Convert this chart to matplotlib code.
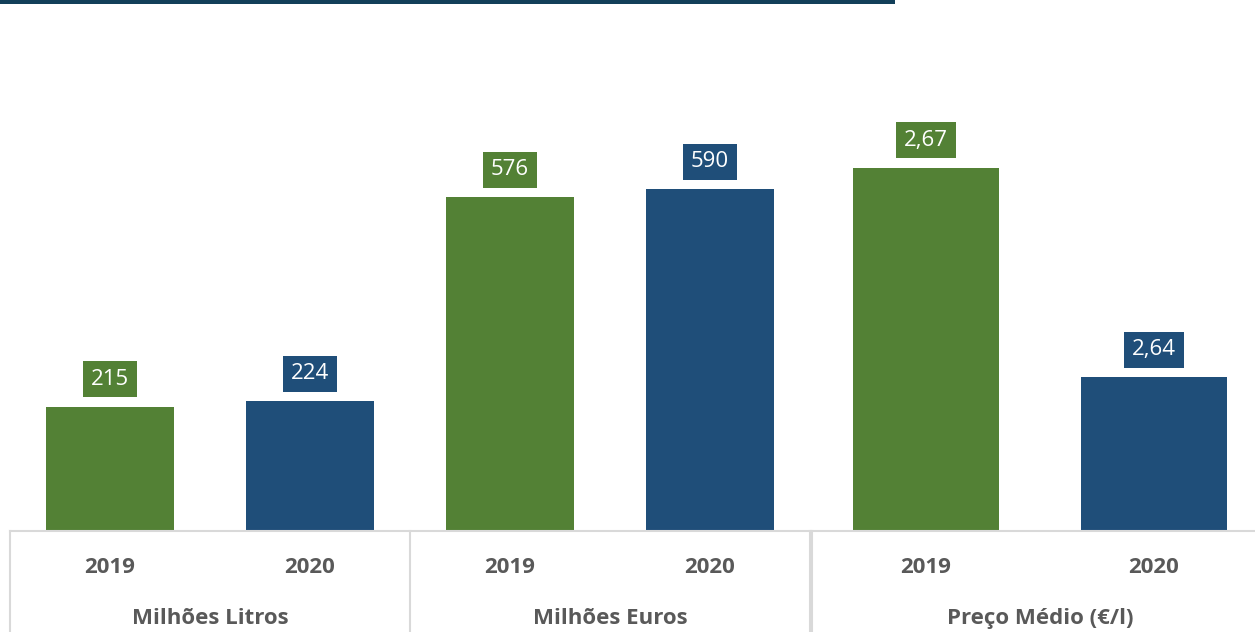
import matplotlib.pyplot as plt
from matplotlib.patches import Rectangle

# data
years = ["2019", "2020"]
groups_left = ["Milhões Litros", "Milhões Euros"]
group_right = "Preço Médio (€/l)"
litros = [215, 224]
euros = [576, 590]
preco = [2.67, 2.64]
preco_labels = ["2,67", "2,64"]

green = "#538135"
blue = "#1f4e79"
gray_txt = "#595959"
line_col = "#d9d9d9"

plt.rcParams["font.family"] = ["Open Sans", "DejaVu Sans"]

W, H = 1255, 632
fig = plt.figure(figsize=(W / 100, H / 100), dpi=100)


def px_axes(x0, y_top, x1, y_bot):
    return fig.add_axes([x0 / W, 1 - y_bot / H, (x1 - x0) / W, (y_bot - y_top) / H])


def style(ax):
    for s in ["top", "right", "left"]:
        ax.spines[s].set_visible(False)
    ax.spines["bottom"].set_color(line_col)
    ax.spines["bottom"].set_linewidth(1.5)
    ax.set_yticks([])
    ax.set_xticks([])


def value_label(ax, x, y, txt, color):
    ax.annotate(txt, (x, y), xytext=(0, 19.8), textcoords="offset points",
                ha="center", va="center", color="white", fontsize=16,
                bbox=dict(boxstyle="square,pad=0.34", fc=color, ec="none"))


def cat_text(ax, x, y, txt):
    ax.text(x, y, txt, transform=ax.get_xaxis_transform(), ha="center", va="center",
            fontsize=16, fontweight="bold", color=gray_txt)


# left chart: litros + euros on one scale
axl = px_axes(10, 0, 810, 531)
style(axl)
vals = litros + euros
cols = [green, blue, green, blue]
xs = range(len(vals))
axl.bar(xs, vals, width=0.64, color=cols)
axl.set_xlim(-0.5, 3.5)
axl.set_ylim(0, 917)
for x, v, c in zip(xs, vals, cols):
    value_label(axl, x, v, str(v), c)
for x, yr in zip(xs, years * 2):
    cat_text(axl, x, -0.068, yr)
for i, g in enumerate(groups_left):
    cat_text(axl, 2 * i + 0.5, -0.164, g)
for x in [-0.5, 1.5, 3.5]:
    axl.plot([x, x], [0, -0.2], transform=axl.get_xaxis_transform(),
             color=line_col, lw=1.5, clip_on=False)

# right chart: preco medio, truncated axis
axr = px_axes(812, 0, 1268, 531)
style(axr)
xr = range(len(preco))
axr.bar(xr, preco, width=0.64, color=[green, blue])
axr.set_xlim(-0.5, 1.5)
axr.set_ylim(2.618, 2.694)
for x, v, t, c in zip(xr, preco, preco_labels, [green, blue]):
    value_label(axr, x, v, t, c)
for x, yr in zip(xr, years):
    cat_text(axr, x, -0.068, yr)
cat_text(axr, 0.5, -0.164, group_right)
axr.plot([-0.5, -0.5], [0, -0.2], transform=axr.get_xaxis_transform(),
         color=line_col, lw=1.5, clip_on=False)

# dark header rule
fig.add_artist(Rectangle((0, 1 - 4 / H), 895 / W, 4 / H, transform=fig.transFigure,
                         color="#123f59", lw=0))

fig.savefig("out.png", dpi=100)
